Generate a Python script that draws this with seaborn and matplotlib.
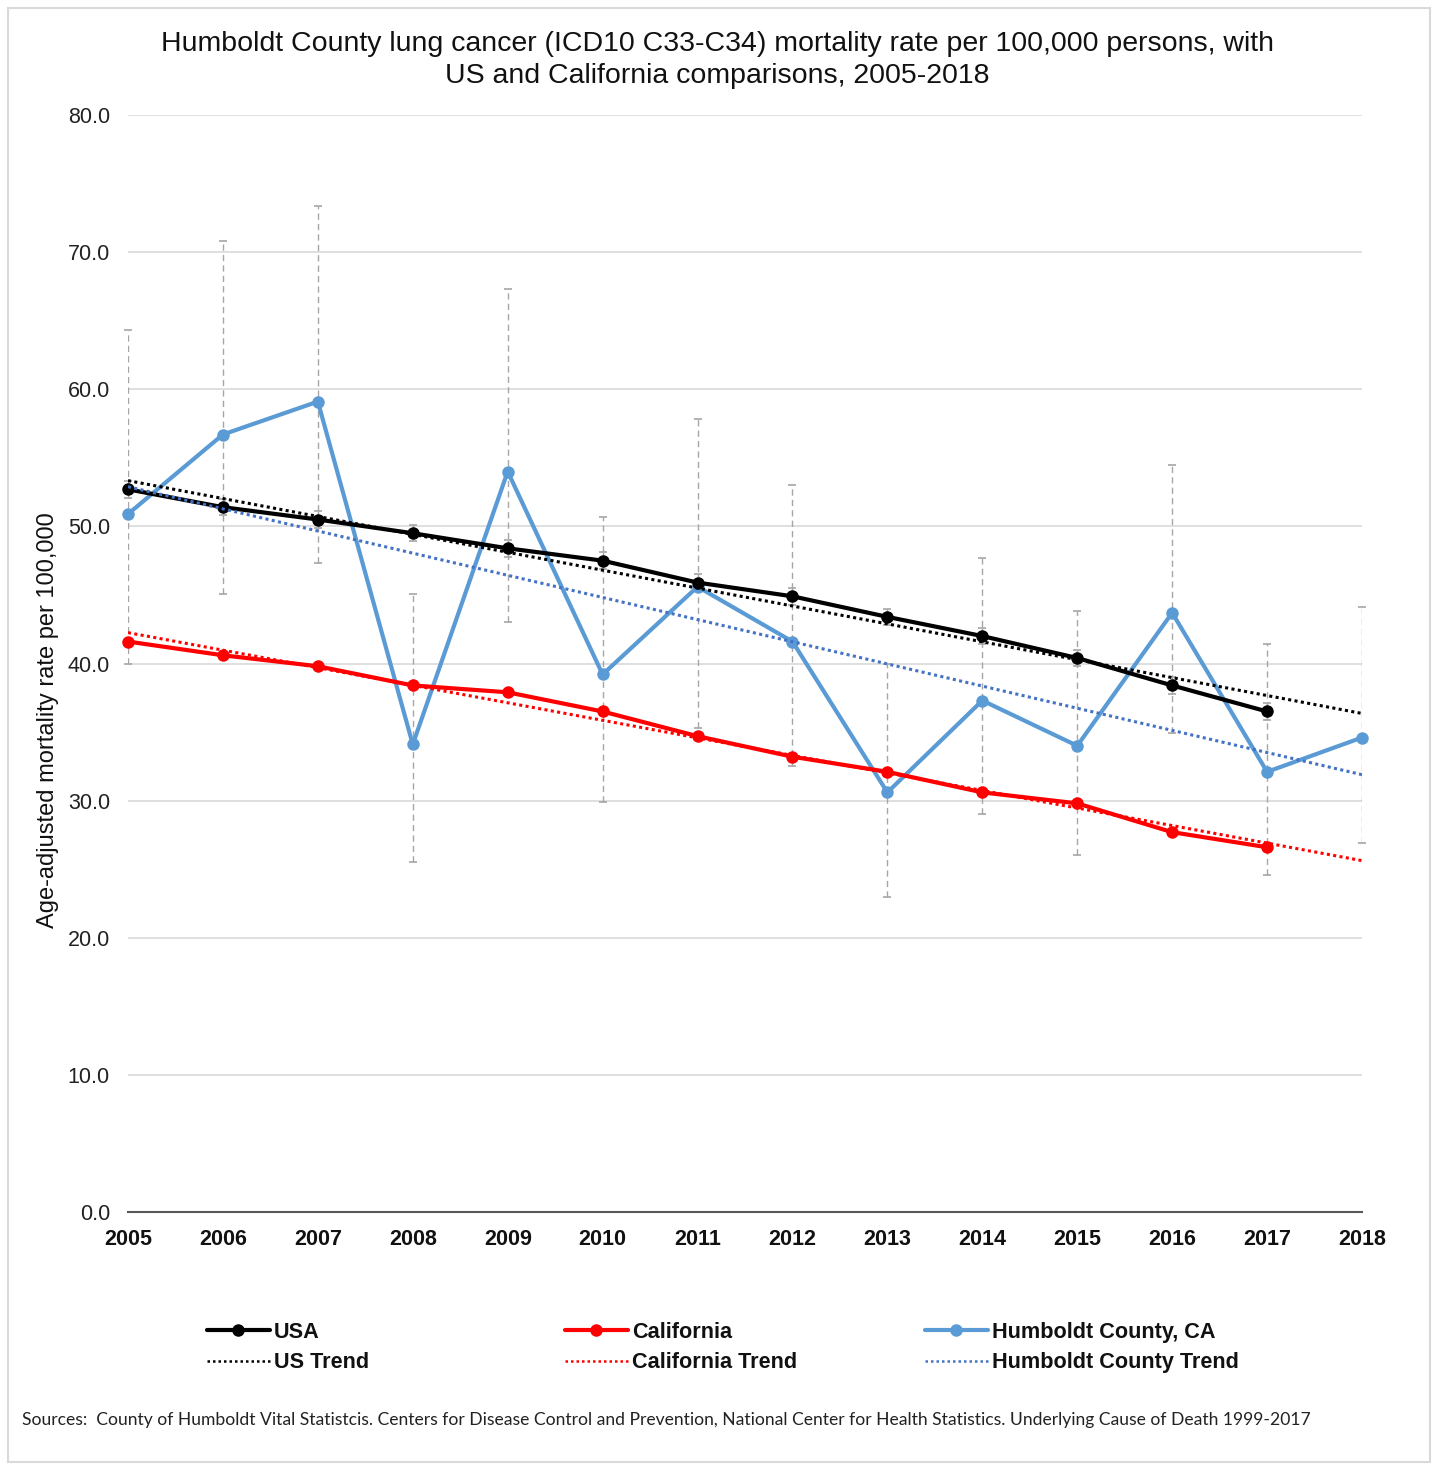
import numpy as np
import pandas as pd
import matplotlib
matplotlib.use("Agg")
import matplotlib.pyplot as plt
import seaborn as sns
from matplotlib.lines import Line2D
from matplotlib.patches import Rectangle

# ---------------- data ----------------
years = [2005, 2006, 2007, 2008, 2009, 2010, 2011, 2012, 2013, 2014, 2015, 2016, 2017, 2018]
usa_years = [2005, 2006, 2007, 2008, 2009, 2010, 2011, 2012, 2013, 2014, 2015, 2016, 2017]
usa_rate = [52.7, 51.4, 50.5, 49.5, 48.4, 47.5, 45.9, 44.9, 43.4, 42.0, 40.4, 38.4, 36.5]
usa_lo = [52.1, 50.8, 49.9, 48.9, 47.8, 46.9, 45.3, 44.3, 42.8, 41.4, 39.8, 37.8, 35.9]
usa_hi = [53.3, 52.0, 51.1, 50.1, 49.0, 48.1, 46.5, 45.5, 44.0, 42.6, 41.0, 39.0, 37.1]
ca_years = [2005, 2006, 2007, 2008, 2009, 2010, 2011, 2012, 2013, 2014, 2015, 2016, 2017]
ca_rate = [41.6, 40.6, 39.8, 38.4, 37.9, 36.5, 34.7, 33.2, 32.1, 30.6, 29.8, 27.7, 26.6]
hum_rate = [50.9, 56.7, 59.1, 34.1, 54.0, 39.2, 45.6, 41.6, 30.6, 37.3, 34.0, 43.7, 32.1, 34.6]
hum_lo = [40.0, 45.1, 47.3, 25.5, 43.0, 29.9, 35.3, 32.5, 23.0, 29.0, 26.0, 34.9, 24.6, 26.9]
hum_hi = [64.3, 70.8, 73.4, 45.1, 67.3, 50.7, 57.8, 53.0, 40.0, 47.7, 43.8, 54.5, 41.4, 44.1]
yticks = [0, 10, 20, 30, 40, 50, 60, 70, 80]

title = ("Humboldt County lung cancer (ICD10 C33-C34) mortality rate per 100,000 persons, with\n"
         "US and California comparisons, 2005-2018")
ylabel = "Age-adjusted mortality rate per 100,000"
source = ("Sources:  County of Humboldt Vital Statistcis. Centers for Disease Control and Prevention, "
          "National Center for Health Statistics. Underlying Cause of Death 1999-2017")

usa_df = pd.DataFrame({"year": usa_years, "rate": usa_rate})
ca_df = pd.DataFrame({"year": ca_years, "rate": ca_rate})
hum_df = pd.DataFrame({"year": years, "rate": hum_rate})

# ---------------- style ----------------
sns.set_theme(style="white")
plt.rcParams["font.family"] = ["Liberation Sans", "DejaVu Sans"]

BLACK = "#000000"
RED = "#FF0000"
BLUE = "#5B9BD5"
BLUE_T = "#4472C4"
GRID = "#D9D9D9"
EB = "#A6A6A6"

fig = plt.figure(figsize=(14.37, 14.69), dpi=100)
ax = fig.add_axes([128 / 1437, 1 - 1212 / 1469, (1362 - 128) / 1437, (1212 - 115) / 1469])
ax.set_xlim(2005, 2018)
ax.set_ylim(0, 80)

# error bars
def draw_eb(xs, ys, lo, hi, z):
    ys = np.array(ys); lo = np.array(lo); hi = np.array(hi)
    eb = ax.errorbar(xs, ys, yerr=[ys - lo, hi - ys], fmt="none", ecolor=EB,
                     elinewidth=1.0, capsize=3, capthick=1.2, zorder=z)
    for c in eb[2]:
        c.set_linestyle((0, (4.5, 3)))
    for c in eb[1]:
        c.set_clip_on(False)

draw_eb(years, hum_rate, hum_lo, hum_hi, 2)
draw_eb(usa_years, usa_rate, usa_lo, usa_hi, 2)

# series
lw = 3.0
ms = 9
for df, col, z in [(hum_df, BLUE, 3), (usa_df, BLACK, 4), (ca_df, RED, 4)]:
    sns.lineplot(data=df, x="year", y="rate", ax=ax, color=col, lw=lw, marker="o",
                 markersize=ms, markeredgewidth=0, legend=False, zorder=z)
for ln in ax.lines:
    ln.set_clip_on(False)

# trend lines (linear fits, extended to 2018)
dot = (0, (1, 1.1))
tlw = 2.2
for df, col in [(usa_df, BLACK), (ca_df, RED), (hum_df, BLUE_T)]:
    sns.regplot(data=df, x="year", y="rate", ax=ax, scatter=False, ci=None, truncate=False,
                line_kws={"color": col, "lw": tlw, "ls": dot, "zorder": 5})
ax.set_xlim(2005, 2018)
ax.set_ylim(0, 80)

# axes styling
ax.set_yticks(yticks)
ax.set_yticklabels([f"{v:.1f}" for v in yticks], fontsize=15.5, color="#222222")
ax.set_xticks(years)
ax.set_xticklabels([str(y) for y in years], fontsize=15.5, fontweight="bold", color="#111111")
ax.yaxis.grid(True, color=GRID, lw=1.2)
ax.xaxis.grid(False)
for s in ["left", "right", "top"]:
    ax.spines[s].set_visible(False)
ax.spines["bottom"].set_color("#595959")
ax.spines["bottom"].set_linewidth(1.5)
ax.tick_params(axis="x", direction="inout", length=12, width=1.3, color="#595959", pad=6)
ax.tick_params(axis="y", length=0, pad=13)
ax.set_xlabel("")
ax.set_ylabel("")

fig.text(0.499, 1 - 60 / 1469, title, ha="center", va="center", fontsize=20.5,
         color="#111111", linespacing=1.28)
fig.text(48 / 1437, 1 - 720 / 1469, ylabel, rotation=90, ha="center", va="center",
         fontsize=17, color="#111111")

# legends
def mk(col, marker=True):
    if marker:
        return Line2D([], [], color=col, lw=lw, marker="o", markersize=ms, markeredgewidth=0)
    return Line2D([], [], color=col, lw=1.8, ls=(0, (1, 1.2)))

groups = [
    (207, [(mk(BLACK), "USA"), (mk(BLACK, False), "US Trend")]),
    (565, [(mk(RED), "California"), (mk(RED, False), "California Trend")]),
    (925, [(mk(BLUE), "Humboldt County, CA"), (mk(BLUE_T, False), "Humboldt County Trend")]),
]
for x0, items in groups:
    leg = fig.legend([h for h, _ in items], [l for _, l in items], loc="center left",
                     bbox_to_anchor=(x0 / 1437, 1 - 1347.5 / 1469), frameon=False,
                     borderpad=0, borderaxespad=0, handlelength=2.9, handletextpad=0.2,
                     labelspacing=0.45, prop={"size": 15.6, "weight": "bold"})
    for t in leg.get_texts():
        t.set_color("#111111")

fig.text(22 / 1437, 1 - 1420 / 1469, source, ha="left", va="center", fontsize=12.63,
         family=["Lato", "DejaVu Sans"], color="#222222")

fig.patches.append(Rectangle((8 / 1437, 1 - 1462 / 1469), (1430 - 8) / 1437, (1462 - 8) / 1469,
                             transform=fig.transFigure, fill=False, ec="#D9D9D9", lw=1.5))

fig.savefig("out.png", dpi=100, facecolor="white")
